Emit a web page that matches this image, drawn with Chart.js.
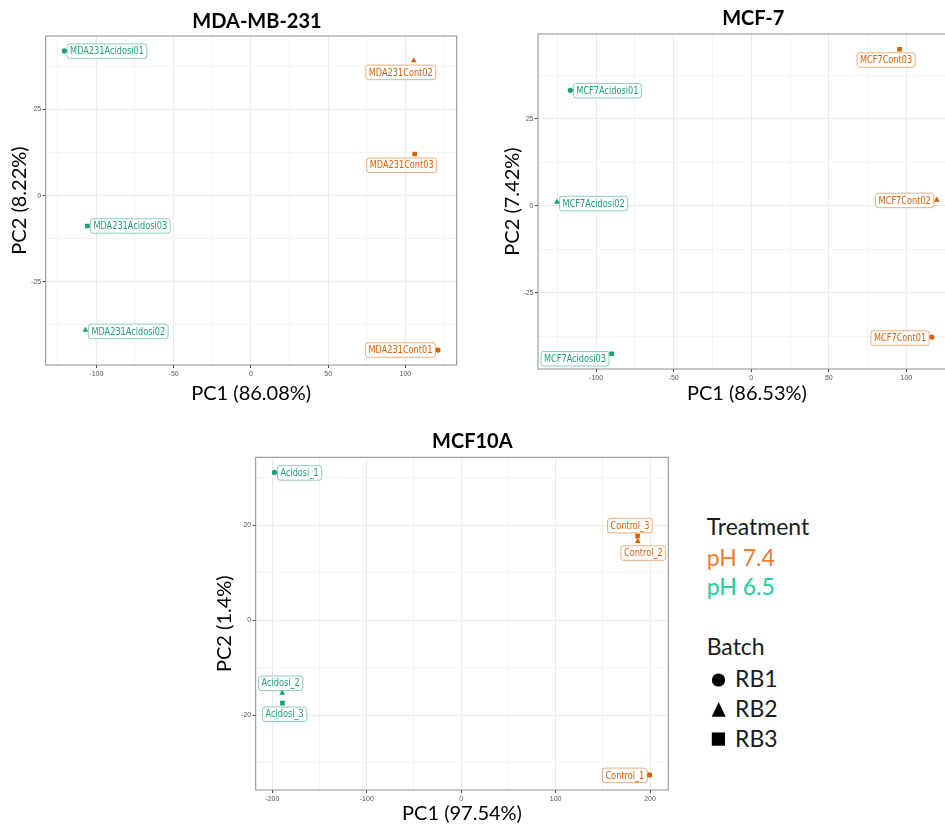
<!DOCTYPE html>
<html>
<head>
<meta charset="utf-8">
<title>PCA of acidosis samples</title>
<script src="https://cdn.jsdelivr.net/npm/chart.js@4.4.1/dist/chart.umd.min.js"></script>
<style>
  html, body { margin: 0; padding: 0; background: #ffffff; }
  body { width: 945px; height: 824px; overflow: hidden; position: relative; }
  canvas { position: absolute; display: block; }
  svg { position: absolute; overflow: visible; }
</style>
</head>
<body>
<canvas id="mda231" width="470" height="410" style="left:0px;top:0px"></canvas>
<canvas id="mcf7" width="500" height="410" style="left:470px;top:0px"></canvas>
<canvas id="mcf10a" width="480" height="404" style="left:200px;top:420px"></canvas>

<svg id="legend" width="265" height="260" style="left:680px;top:500px" font-family="Lato, 'Open Sans', sans-serif" font-size="23">
  <text x="26.7" y="35" fill="#1a1a1a">Treatment</text>
  <text x="26.7" y="65.7" fill="#ED7D31">pH 7.4</text>
  <text x="26.7" y="95" fill="#26C99B">pH 6.5</text>
  <text x="26.7" y="155" fill="#1a1a1a">Batch</text>
  <circle cx="38.5" cy="180" r="6.6" fill="#000"></circle>
  <text x="55" y="186.7" fill="#1a1a1a">RB1</text>
  <polygon points="31.7,216.7 45.7,216.7 38.7,202" fill="#000"></polygon>
  <text x="55" y="216.7" fill="#1a1a1a">RB2</text>
  <rect x="31.8" y="232.5" width="13.2" height="13.2" fill="#000"></rect>
  <text x="55" y="246.7" fill="#1a1a1a">RB3</text>
</svg>

<script>
// ---- shared sample design (same order in every cell line) ----
const treatmentLevels = ['pH 7.4', 'pH 6.5'];
const treatments = ['pH 7.4', 'pH 7.4', 'pH 7.4', 'pH 6.5', 'pH 6.5', 'pH 6.5'];
const batches = ['RB1', 'RB2', 'RB3', 'RB1', 'RB2', 'RB3'];

// ---- MDA-MB-231 ----
const mdaSamples = ['MDA231Cont01', 'MDA231Cont02', 'MDA231Cont03',
                    'MDA231Acidosi01', 'MDA231Acidosi02', 'MDA231Acidosi03'];
const mdaPC1 = [121.1, 105.4, 106.0, -120.7, -107.1, -105.8];
const mdaPC2 = [-44.8, 39.2, 12.1, 42.0, -39.0, -8.8];
const mdaXTicks = [-100, -50, 0, 50, 100];
const mdaYTicks = [-25, 0, 25];

// ---- MCF-7 ----
const mcf7Samples = ['MCF7Cont01', 'MCF7Cont02', 'MCF7Cont03',
                     'MCF7Acidosi01', 'MCF7Acidosi02', 'MCF7Acidosi03'];
const mcf7PC1 = [116.4, 119.6, 95.6, -116.6, -125.2, -90.0];
const mcf7PC2 = [-37.7, 1.7, 45.0, 33.2, 1.1, -42.5];
const mcf7XTicks = [-100, -50, 0, 50, 100];
const mcf7YTicks = [-25, 0, 25];

// ---- MCF10A ----
const mcf10aSamples = ['Control_1', 'Control_2', 'Control_3',
                       'Acidosi_1', 'Acidosi_2', 'Acidosi_3'];
const mcf10aPC1 = [199.5, 187.1, 186.8, -197.8, -189.6, -189.3];
const mcf10aPC2 = [-32.5, 16.6, 17.7, 31.1, -15.3, -17.4];
const mcf10aXTicks = [-200, -100, 0, 100, 200];
const mcf10aYTicks = [-20, 0, 20];

// ---- label placement: [dx px, dy px, anchor] (l = box starts right of point, r = box ends left of point, c = box centred) ----
const mdaLabelPlace = [[-2.6, 0, 'r'], [-13, 11.8, 'c'], [-13, 11.3, 'c'],
                       [2.7, 0.2, 'l'], [3, 1.3, 'l'], [3, 0, 'l']];
const mcf7LabelPlace = [[-2.7, 1, 'r'], [-3, 0.5, 'r'], [-13.5, 10.8, 'c'],
                        [3, 0.4, 'l'], [2.6, 1.5, 'l'], [-2.6, 5, 'r']];
const mcf10aLabelPlace = [[-2.3, 0.5, 'r'], [5.5, 11.7, 'c'], [-7.6, -10.5, 'c'],
                          [3, 0.5, 'l'], [-1.5, -9.8, 'c'], [2.2, 11.2, 'c']];

// ---- styles ----
const treatmentColors = { 'pH 7.4': '#D95F02', 'pH 6.5': '#1B9E77' };
const labelBorderColors = { 'pH 7.4': 'rgba(217,95,2,0.5)', 'pH 6.5': 'rgba(27,158,119,0.5)' };
const batchShapes = { RB1: 'circle', RB2: 'triangle', RB3: 'rect' };
const batchRadius = { RB1: 2.6, RB2: 3.4, RB3: 3.3 };
const LABEL_FONT = "10.4px 'DejaVu Sans Condensed', 'Liberation Sans Narrow', sans-serif";
const LABEL_SQUEEZE = 0.875;   // narrow the label lettering horizontally
const TICK_FONT = { family: "'Liberation Sans', Arial, sans-serif", size: 7 };
const AXIS_TITLE_FONT = { family: "Lato, 'Open Sans', sans-serif", size: 20, lineHeight: 1 };

// ggplot-style 5% expansion of the data range
function expandRange(values) {
  const lo = Math.min(...values), hi = Math.max(...values);
  const pad = (hi - lo) * 0.05;
  return [lo - pad, hi + pad];
}

// major ticks plus minor grid positions halfway between them
function gridValues(major, range) {
  const step = major[1] - major[0];
  const minor = major.map(v => v - step / 2).concat([major[major.length - 1] + step / 2]);
  return major.concat(minor)
    .filter(v => v > range[0] && v < range[1])
    .sort((a, b) => a - b);
}

function panelDatasets(samples, pc1, pc2, placement) {
  return treatmentLevels.map(level => {
    const idx = samples.map((_, i) => i).filter(i => treatments[i] === level);
    return {
      label: level,
      data: idx.map(i => ({ x: pc1[i], y: pc2[i], name: samples[i], place: placement[i] })),
      pointStyle: idx.map(i => batchShapes[batches[i]]),
      pointRadius: idx.map(i => batchRadius[batches[i]]),
      pointHoverRadius: idx.map(i => batchRadius[batches[i]]),
      backgroundColor: treatmentColors[level],
      borderColor: treatmentColors[level],
      pointBorderWidth: 0,
      labelBorder: labelBorderColors[level]
    };
  });
}

function axisOptions(major, range, title, horizontal, fixedSize, titlePadding) {
  const values = gridValues(major, range);
  const isMajor = v => major.includes(v);
  return {
    type: 'linear',
    min: range[0],
    max: range[1],
    afterBuildTicks: scale => { scale.ticks = values.map(v => ({ value: v })); },
    afterFit: scale => { if (horizontal) scale.height = fixedSize; else scale.width = fixedSize; },
    ticks: {
      autoSkip: false, maxRotation: 0, minRotation: 0,
      padding: horizontal ? 2 : 1.5,
      font: TICK_FONT, color: '#555555',
      callback: v => (isMajor(v) ? String(v) : '')
    },
    grid: {
      color: c => (c.tick && isMajor(c.tick.value) ? '#EAEAEA' : '#F4F4F4'),
      lineWidth: 1,
      drawTicks: true,
      tickLength: 3,
      tickColor: c => (c.tick && isMajor(c.tick.value) ? '#444444' : 'rgba(0,0,0,0)')
    },
    border: { display: false },
    title: {
      display: true, text: title, color: '#000000',
      font: AXIS_TITLE_FONT, padding: titlePadding
    }
  };
}

// panel frame drawn above the grid
const panelFrame = {
  id: 'panelFrame',
  beforeDatasetsDraw(chart) {
    const { left, top, right, bottom } = chart.chartArea;
    const ctx = chart.ctx;
    ctx.save();
    ctx.strokeStyle = '#8C8C8C';
    ctx.lineWidth = 1;
    ctx.strokeRect(left, top, right - left, bottom - top);
    ctx.restore();
  }
};

// boxed sample names next to each point
const sampleLabels = {
  id: 'sampleLabels',
  afterDatasetsDraw(chart) {
    const ctx = chart.ctx;
    const padX = 3, boxH = 14.5;
    ctx.save();
    ctx.font = LABEL_FONT;
    ctx.textAlign = 'center';
    ctx.textBaseline = 'middle';
    chart.data.datasets.forEach((ds, di) => {
      const meta = chart.getDatasetMeta(di);
      meta.data.forEach((pt, i) => {
        const d = ds.data[i];
        const [dx, dy, anchor] = d.place;
        const w = ctx.measureText(d.name).width * LABEL_SQUEEZE + 2 * padX;
        let cx = pt.x + dx;
        if (anchor === 'l') cx += w / 2;
        else if (anchor === 'r') cx -= w / 2;
        const cy = pt.y + dy;
        ctx.beginPath();
        ctx.roundRect(cx - w / 2, cy - boxH / 2, w, boxH, 2.5);
        ctx.fillStyle = '#ffffff';
        ctx.fill();
        ctx.lineWidth = 1;
        ctx.strokeStyle = ds.labelBorder;
        ctx.stroke();
        ctx.save();
        ctx.translate(cx, cy + 0.5);
        ctx.scale(LABEL_SQUEEZE, 1);
        ctx.fillStyle = ds.backgroundColor;
        ctx.fillText(d.name, 0, 0);
        ctx.restore();
      });
    });
    ctx.restore();
  }
};

// bold panel heading
const panelHeading = {
  id: 'panelHeading',
  afterDraw(chart, args, opts) {
    const ctx = chart.ctx;
    ctx.save();
    ctx.font = "bold 20px Lato, 'Open Sans', sans-serif";
    ctx.fillStyle = '#000000';
    ctx.textAlign = 'center';
    ctx.textBaseline = 'middle';
    ctx.fillText(opts.text, opts.x, opts.y);
    ctx.restore();
  }
};

function drawPanel(id, p) {
  const xRange = expandRange(p.pc1);
  const yRange = expandRange(p.pc2);
  return new Chart(document.getElementById(id), {
    type: 'scatter',
    data: { datasets: panelDatasets(p.samples, p.pc1, p.pc2, p.place) },
    options: {
      responsive: false,
      animation: false,
      events: [],
      layout: { padding: p.padding },
      plugins: {
        legend: { display: false },
        tooltip: { enabled: false },
        title: { display: false },
        panelHeading: p.heading
      },
      scales: {
        x: axisOptions(p.xTicks, xRange, p.xTitle, true, p.xHeight, { top: 0, bottom: p.xTitlePad }),
        y: axisOptions(p.yTicks, yRange, p.yTitle, false, p.yWidth, { top: p.yTitlePad, bottom: 0 })
      }
    },
    plugins: [panelFrame, sampleLabels, panelHeading]
  });
}

drawPanel('mda231', {
  samples: mdaSamples, pc1: mdaPC1, pc2: mdaPC2, place: mdaLabelPlace,
  xTicks: mdaXTicks, yTicks: mdaYTicks,
  xTitle: 'PC1 (86.08%)', yTitle: 'PC2 (8.22%)',
  heading: { text: 'MDA-MB-231', x: 257, y: 22 },
  padding: { top: 36, right: 13.3, bottom: 0, left: 0 },
  yWidth: 45.7, xHeight: 45, yTitlePad: 9.5, xTitlePad: 6.5
});

drawPanel('mcf7', {
  samples: mcf7Samples, pc1: mcf7PC1, pc2: mcf7PC2, place: mcf7LabelPlace,
  xTicks: mcf7XTicks, yTicks: mcf7YTicks,
  xTitle: 'PC1 (86.53%)', yTitle: 'PC2 (7.42%)',
  heading: { text: 'MCF-7', x: 283.3, y: 18.3 },
  padding: { top: 34, right: 14.2, bottom: 0, left: 0 },
  yWidth: 68, xHeight: 41, yTitlePad: 32.2, xTitlePad: 6.5
});

drawPanel('mcf10a', {
  samples: mcf10aSamples, pc1: mcf10aPC1, pc2: mcf10aPC2, place: mcf10aLabelPlace,
  xTicks: mcf10aXTicks, yTicks: mcf10aYTicks,
  xTitle: 'PC1 (97.54%)', yTitle: 'PC2 (1.4%)',
  heading: { text: 'MCF10A', x: 272.3, y: 21.7 },
  padding: { top: 37.3, right: 11.7, bottom: 0, left: 0 },
  yWidth: 55.7, xHeight: 34, yTitlePad: 14.5, xTitlePad: 0.2
});
</script>
</body>
</html>
